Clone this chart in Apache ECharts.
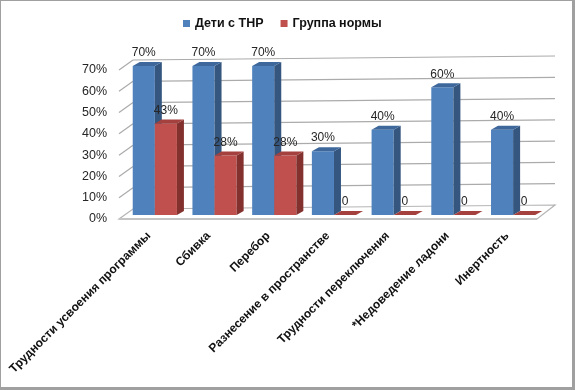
<!DOCTYPE html>
<html>
<head>
<meta charset="utf-8">
<script src="https://cdn.jsdelivr.net/npm/echarts@6/dist/echarts.min.js"></script>
<style>
  html, body { margin: 0; padding: 0; background: #fff; }
  #frame { position: relative; width: 575px; height: 390px; box-sizing: border-box;
           border-left: 1px solid #a0a0a0; border-top: 1px solid #a0a0a0;
           border-right: 3px solid #a0a0a0; border-bottom: 3px solid #a0a0a0; }
  #chart { position: absolute; left: -1px; top: -1px; width: 575px; height: 390px; }
</style>
</head>
<body>
<div id="frame"><div id="chart"></div></div>
<script>
// categories and the two series, values as fractions (0.7 = 70%)
const categories = [
  "Трудности усвоения программы",
  "Сбивка",
  "Перебор",
  "Разнесение в пространстве",
  "Трудности переключения",
  "*Недоведение ладони",
  "Инертность"
];
const tnr = [0.70, 0.70, 0.70, 0.30, 0.40, 0.60, 0.40];
const norm = [0.43, 0.28, 0.28, 0, 0, 0, 0];
const yTicks = [0, 0.1, 0.2, 0.3, 0.4, 0.5, 0.6, 0.7];
const names = ["Дети с ТНР", "Группа нормы"];

const FONT = '"Liberation Sans", Arial, sans-serif';
const BLUE = { front: "#4F81BD", side: "#34567f", top: "#3e689c" };
const RED = { front: "#C0504D", side: "#83312f", top: "#a4413e" };

const pct = (v) => (v === 0 ? "0" : Math.round(v * 100) + "%");

// one 3D column: front face, right side, top, and the value label
function barRender(left, col) {
  return (params, api) => {
    const cat = api.value(0), v = api.value(1);
    const band = api.size([1, 0])[0];
    const c = api.coord([cat, v]), c0 = api.coord([cat, 0]);
    const w = band * 0.37, shift = band * 0.1, dx = 7, dy = 4, lift = 4;
    const x0 = c[0] + shift - (left ? w : 0), x1 = x0 + w;
    const yb = c0[1] - lift, yt = c[1] - lift;
    const kids = [];
    if (yb - yt > 0.5) {
      kids.push({ type: "rect", shape: { x: x0, y: yt, width: w, height: yb - yt }, style: { fill: col.front } });
      kids.push({ type: "polygon", shape: { points: [[x1, yb], [x1 + dx, yb - dy], [x1 + dx, yt - dy], [x1, yt]] }, style: { fill: col.side } });
    }
    kids.push({ type: "polygon", shape: { points: [[x0, yt], [x1, yt], [x1 + dx, yt - dy], [x0 + dx, yt - dy]] }, style: { fill: col.top } });
    kids.push({ type: "text", style: { text: pct(v), x: x0 + w / 2, y: yt - 13, align: "center", verticalAlign: "middle", font: "12px " + FONT, fill: "#262626" } });
    return { type: "group", children: kids };
  };
}

// floor, back wall gridlines and the left wall diagonals
function wallRender(params, api) {
  const cs = params.coordSys;
  const L = cs.x, R = cs.x + cs.width;
  const B = api.coord([0, 0])[1];
  const kids = [];
  kids.push({ type: "polygon", shape: { points: [[L, B], [R, B], [R + 18, B - 14], [L + 14, B - 10]] },
              style: { fill: "#fff", stroke: "#b4b4b4", lineWidth: 1.2 } });
  kids.push({ type: "line", shape: { x1: L, y1: B, x2: R, y2: B }, style: { stroke: "#c4c4c4", lineWidth: 2 } });
  yTicks.forEach((t) => {
    if (t === 0) return;
    const y = api.coord([0, t])[1];
    kids.push({ type: "line", shape: { x1: L + 14, y1: y - 10, x2: R + 18, y2: y - 14 }, style: { stroke: "#ababab", lineWidth: 1.2 } });
    kids.push({ type: "line", shape: { x1: L, y1: y, x2: L + 14, y2: y - 10 }, style: { stroke: "#ababab", lineWidth: 1.2 } });
  });
  return { type: "group", children: kids };
}

const chart = echarts.init(document.getElementById("chart"), null, { renderer: "canvas" });
chart.setOption({
  animation: false,
  textStyle: { fontFamily: FONT },
  legend: {
    left: 183, top: 17, padding: 0, itemWidth: 7, itemHeight: 7, itemGap: 17, selectedMode: false,
    textStyle: { fontWeight: "bold", fontSize: 12.5, color: "#111", fontFamily: FONT },
    data: [
      { name: names[0], icon: "rect", itemStyle: { color: BLUE.front } },
      { name: names[1], icon: "rect", itemStyle: { color: RED.front } }
    ]
  },
  grid: { left: 119, right: 38, top: 70, bottom: 171 },
  xAxis: {
    type: "category", data: categories,
    axisLine: { show: false }, axisTick: { show: false },
    axisLabel: { interval: 0, rotate: 45, margin: 15, fontWeight: "bold", fontSize: 12, color: "#111", fontFamily: FONT }
  },
  yAxis: {
    type: "value", min: 0, max: 0.7, interval: 0.1,
    axisLine: { show: false }, axisTick: { show: false }, splitLine: { show: false },
    axisLabel: { margin: 12, fontSize: 12.5, color: "#262626", fontFamily: FONT, formatter: (v) => Math.round(v * 100) + "%" }
  },
  series: [
    { type: "custom", silent: true, clip: false, z: 1, renderItem: wallRender, data: [[0, 0]] },
    { type: "custom", name: names[0], clip: false, z: 2, itemStyle: { color: BLUE.front },
      renderItem: barRender(true, BLUE), data: tnr.map((v, i) => [i, v]) },
    { type: "custom", name: names[1], clip: false, z: 3, itemStyle: { color: RED.front },
      renderItem: barRender(false, RED), data: norm.map((v, i) => [i, v]) }
  ]
});
</script>
</body>
</html>
